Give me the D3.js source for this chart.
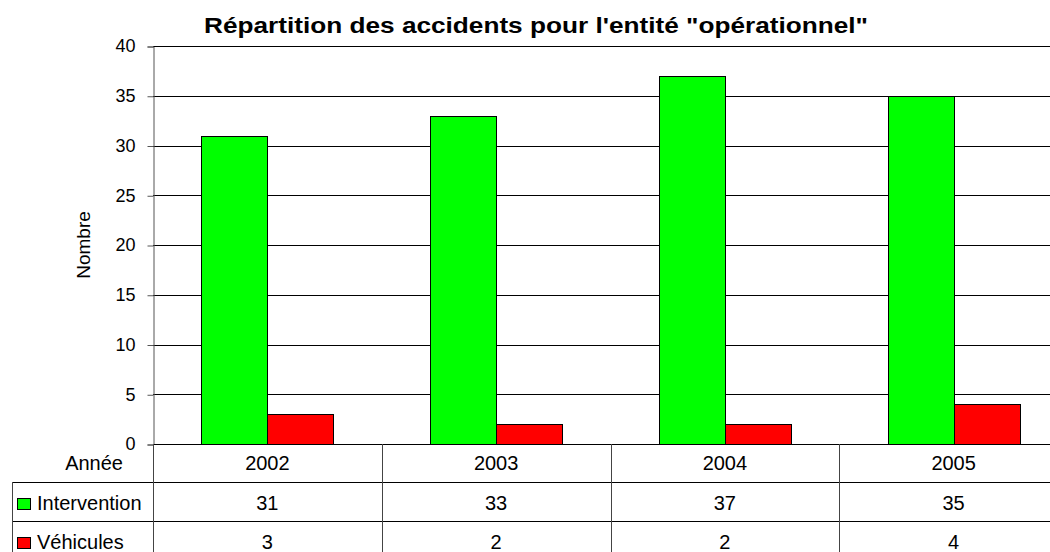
<!DOCTYPE html>
<html><head><meta charset="utf-8">
<script src="https://cdn.jsdelivr.net/npm/d3@7"></script>
<style>body{margin:0;background:#fff}svg{display:block;font-family:"Liberation Sans",Arial,sans-serif}</style>
</head><body>
<svg id="c" width="1050" height="552"></svg>
<script>
const title = "Répartition des accidents pour l'entité \"opérationnel\"";
const categories = ["2002","2003","2004","2005"];
const seriesNames = ["Intervention","Véhicules"];
const intervention = [31,33,37,35];
const vehicules = [3,2,2,4];
const colors = ["#00ff00","#ff0000"];
const yTicks = [0,5,10,15,20,25,30,35,40];

const svg = d3.select("#c");
const L = 153, R = 1068, T = 46, B = 444;
const x = d3.scaleBand().domain(categories).range([L,R]);
const y = d3.scaleLinear().domain([0,40]).range([B,T]);
const series = [intervention, vehicules];

// gridlines
svg.append("g").selectAll("line").data(yTicks.filter(d=>d>0)).join("line")
  .attr("x1",L).attr("x2",R).attr("y1",d=>Math.round(y(d))+0.5).attr("y2",d=>Math.round(y(d))+0.5)
  .attr("stroke","#000").attr("stroke-width",1);

// bars
const bw = 66;
categories.forEach((c,i)=>{
  const cx = x(c) + x.bandwidth()/2;
  series.forEach((s,j)=>{
    const x0 = j===0 ? cx-bw : cx;
    svg.append("rect").attr("x",Math.round(x0)+0.5).attr("y",Math.round(y(s[i]))+0.5)
      .attr("width",bw).attr("height",Math.round(y(0))-Math.round(y(s[i])))
      .attr("fill",colors[j]).attr("stroke","#000").attr("stroke-width",1);
  });
});

// y axis
const ya = d3.axisLeft(y).tickValues(yTicks).tickSize(6).tickPadding(12);
const yg = svg.append("g").attr("transform",`translate(${L+0.5},0.5)`).call(ya);
yg.select(".domain").attr("stroke","#555");
yg.selectAll(".tick line").attr("stroke","#555");
yg.selectAll("text").attr("font-size",18).attr("fill","#000").attr("dy","0.3em").attr("font-family","Liberation Sans, Arial, sans-serif");

// y title
svg.append("text").attr("transform",`translate(90,${(T+B)/2}) rotate(-90)`)
  .attr("text-anchor","middle").attr("font-size",19).text("Nombre");

// title
svg.append("text").attr("x",536).attr("y",33).attr("text-anchor","middle")
  .attr("font-size",22).attr("font-weight","bold")
  .attr("textLength",664).attr("lengthAdjust","spacingAndGlyphs").text(title);

// data table
const rowY = [444,482,521,560];
const tbl = svg.append("g").attr("stroke","#000").attr("stroke-width",1);
tbl.append("line").attr("x1",L).attr("x2",R).attr("y1",B+0.5).attr("y2",B+0.5);
tbl.append("line").attr("x1",12).attr("x2",R).attr("y1",rowY[1]+0.5).attr("y2",rowY[1]+0.5);
tbl.append("line").attr("x1",12).attr("x2",R).attr("y1",rowY[2]+0.5).attr("y2",rowY[2]+0.5);
tbl.append("line").attr("x1",12.5).attr("x2",12.5).attr("y1",rowY[1]).attr("y2",rowY[3]).attr("stroke","#444");
categories.forEach(c=>{
  const xx = Math.round(x(c)+x.bandwidth())+0.5;
  tbl.append("line").attr("x1",xx).attr("x2",xx).attr("y1",B).attr("y2",rowY[3]).attr("stroke","#444");
});
tbl.append("line").attr("x1",L+0.5).attr("x2",L+0.5).attr("y1",B).attr("y2",rowY[3]).attr("stroke","#444");

svg.append("text").attr("x",123).attr("y",470).attr("text-anchor","end").attr("font-size",20).text("Année");
categories.forEach(c=>{
  svg.append("text").attr("x",x(c)+x.bandwidth()/2).attr("y",470).attr("text-anchor","middle").attr("font-size",20).text(c);
});
series.forEach((s,j)=>{
  const ty = rowY[j+1] + 28;
  svg.append("rect").attr("x",17.5).attr("y",ty-11.5).attr("width",13).attr("height",11)
    .attr("fill",colors[j]).attr("stroke","#000");
  svg.append("text").attr("x",37).attr("y",ty).attr("font-size",20).text(seriesNames[j]);
  categories.forEach((c,i)=>{
    svg.append("text").attr("x",x(c)+x.bandwidth()/2).attr("y",ty).attr("text-anchor","middle").attr("font-size",20).text(s[i]);
  });
});
</script>
</body></html>
